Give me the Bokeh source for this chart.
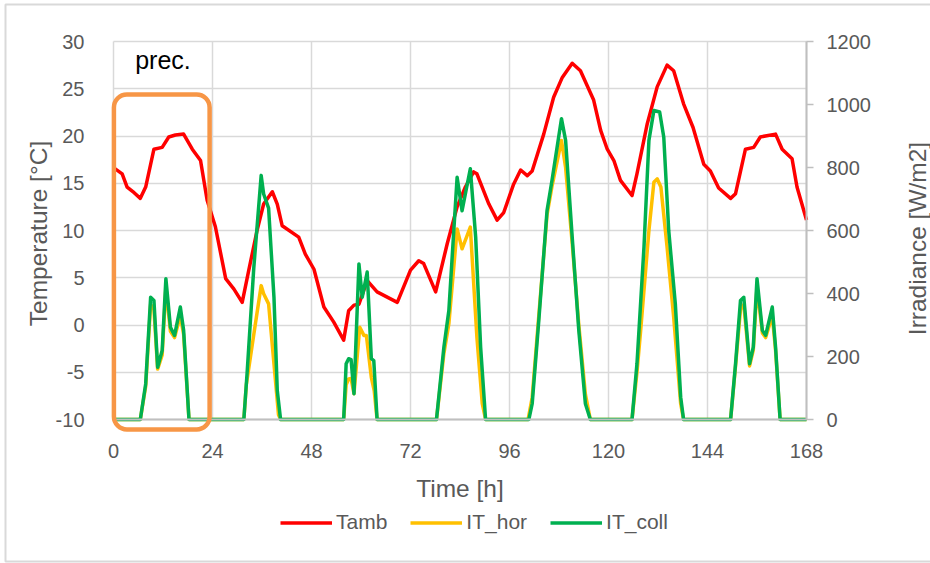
import math
from bokeh.plotting import figure
from bokeh.models import (Range1d, LinearAxis, FixedTicker, Legend, LegendItem,
                          BoxAnnotation, Label, Grid)
from bokeh.embed import file_html
from bokeh.resources import INLINE

# ---------------- data ----------------
tamb_t = [0, 0.5, 2.1, 3.3, 5.0, 6.5, 7.8, 9.8, 11.8, 13.4, 15.0, 17.0, 19.1, 21.1, 22.7,
          24.7, 27.2, 29.2, 31.2, 32.8, 34.8, 36.4, 38.5, 39.7, 40.9, 44.9, 46.5, 48.6,
          51.0, 53.4, 55.8, 57.0, 58.3, 59.5, 61.5, 63.9, 68.8, 72.0, 74.0, 75.2, 78.1,
          80.9, 83.3, 85.3, 87.3, 88.1, 91.0, 93.0, 94.6, 97.0, 98.7, 100.3, 101.5,
          104.3, 106.7, 108.8, 111.2, 113.2, 116.4, 118.1, 119.7, 121.3, 122.9, 125.7,
          126.9, 129.4, 131.8, 134.2, 135.8, 138.2, 140.5, 143.1, 144.7, 146.7, 149.6,
          150.8, 153.2, 155.2, 156.8, 160.5, 162.1, 164.5, 165.7, 168]
tamb_v = [16.6, 16.5, 16.0, 14.6, 14.0, 13.4, 14.6, 18.6, 18.8, 19.9, 20.1, 20.2, 18.6, 17.4, 13.2,
          10.4, 4.9, 3.8, 2.4, 5.8, 10.0, 12.8, 14.1, 12.8, 10.5, 9.3, 7.5, 5.9,
          1.9, 0.3, -1.6, 1.5, 2.1, 2.2, 4.7, 3.5, 2.4, 5.8, 6.8, 6.5, 3.5,
          8.6, 12.5, 14.6, 16.2, 16.0, 12.8, 11.1, 11.9, 14.9, 16.4, 15.8, 16.3,
          20.2, 24.1, 26.2, 27.7, 26.9, 23.8, 20.6, 18.6, 17.4, 15.3, 13.7,
          16.0, 21.3, 25.2, 27.5, 26.9, 23.4, 20.9, 17.0, 16.3, 14.5, 13.4,
          13.9, 18.6, 18.8, 19.9, 20.2, 18.6, 17.6, 14.6, 11.1]

ithor_t = [0, 6.5, 7.8, 9.0, 9.8, 10.7, 11.8, 12.7, 13.8, 14.8, 16.2, 17.0, 18.3,
           31.6, 32.2, 34.4, 35.8, 36.4, 37.6, 38.9, 40.0, 40.5,
           55.8, 56.4, 57.0, 57.6, 58.3, 59.7, 60.7, 61.3, 62.5, 63.2, 63.9,
           78.3, 80.1, 81.3, 83.3, 84.5, 86.5, 88.1, 89.4, 90.2,
           100.5, 101.5, 103.1, 105.1, 106.3, 108.6, 109.6, 111.2, 112.8, 114.4, 115.6,
           125.7, 126.9, 127.8, 129.8, 131.0, 131.8, 132.7, 134.2, 135.8, 137.5, 138.2,
           149.6, 150.8, 152.0, 152.8, 154.2, 155.1, 156.0, 157.3, 158.1, 159.7, 160.5, 161.6, 168]
ithor_v = [0, 0, 105, 365, 350, 160, 205, 420, 280, 260, 330, 270, 0,
           0, 110, 304, 425, 399, 367, 177, 15, 0,
           0, 110, 129, 130, 82, 293, 267, 267, 134, 92, 0,
           0, 210, 304, 605, 542, 611, 261, 50, 0,
           0, 70, 330, 650, 740, 886, 800, 560, 300, 80, 0,
           0, 150, 283, 600, 753, 764, 738, 547, 325, 50, 0,
           0, 170, 350, 365, 170, 220, 420, 275, 260, 330, 220, 0, 0]

itcoll_t = [0, 6.5, 7.8, 9.0, 9.8, 10.7, 11.8, 12.7, 13.8, 14.8, 16.2, 17.0, 18.3,
            31.6, 32.4, 34.0, 35.8, 36.4, 37.6, 38.9, 39.7, 40.5,
            55.8, 56.4, 57.0, 57.6, 58.3, 59.5, 60.3, 61.5, 62.5, 63.1, 63.9,
            78.3, 80.1, 81.3, 83.3, 84.5, 86.5, 87.8, 89.0, 90.2,
            100.7, 101.5, 103.1, 105.1, 106.3, 108.6, 109.6, 111.2, 112.8, 114.4, 115.6,
            125.7, 126.9, 128.6, 129.8, 131.0, 132.4, 133.4, 134.6, 136.2, 137.5, 138.2,
            149.6, 150.8, 152.0, 152.8, 154.2, 155.1, 156.0, 157.3, 158.1, 159.7, 160.5, 161.6, 168]
itcoll_v = [0, 0, 113, 388, 378, 166, 219, 447, 293, 267, 357, 283, 0,
            0, 150, 480, 775, 716, 671, 388, 92, 0,
            0, 177, 193, 190, 82, 494, 388, 468, 193, 187, 0,
            0, 230, 346, 769, 663, 796, 579, 230, 0,
            0, 50, 314, 663, 759, 955, 886, 579, 283, 50, 0,
            0, 177, 547, 886, 981, 976, 896, 600, 367, 71, 0,
            0, 177, 378, 388, 177, 230, 447, 283, 267, 357, 230, 0, 0]

x_ticks = [0, 24, 48, 72, 96, 120, 144, 168]
temp_ticks = [-10, -5, 0, 5, 10, 15, 20, 25, 30]
temp_tick_labels = ["-10", "-5", "0", "5", "10", "15", "20", "25", "30"]
irr_ticks = [0, 200, 400, 600, 800, 1000, 1200]

series_names = ["Tamb", "IT_hor", "IT_coll"]
series_colors = ["#FF0000", "#FFC000", "#00B050"]

x_title = "Time [h]"
y_title = "Temperature [°C]"
y2_title = "Irradiance [W/m2]"
prec_label = "prec."
prec_box = dict(left=0.1, right=23.3, bottom=-11.05, top=24.4)

# ---------------- layout (pixels) ----------------
W, H = 930, 563
FL, FR, FT, FB = 113, 806, 41, 419          # plot area in the picture
X0, X1 = 0, 168
T0, T1 = -10, 30
I0, I1 = 0, 1200
kx = (FR - FL) / (X1 - X0)
ky = (FB - FT) / (T1 - T0)
ki = (FB - FT) / (I1 - I0)


def px_t(px):
    return X0 + (px - FL) / kx


def py_T(py):
    return T0 + (FB - py) / ky


FONT = "Liberation Sans"
TXT = "#595959"
GRID = "#D9D9D9"
AXIS = "#BFBFBF"

p = figure(width=W, height=H, output_backend="svg", toolbar_location=None,
           x_range=Range1d(px_t(0), px_t(W)), y_range=Range1d(py_T(H), py_T(0)),
           min_border=0, min_border_left=0, min_border_right=0, min_border_top=0,
           min_border_bottom=0, outline_line_color=None,
           x_axis_location=None, y_axis_location=None)
p.extra_y_ranges = {"irr": Range1d(I0 - (H - FB) / ki, I0 + FB / ki)}
for g in list(p.xgrid) + list(p.ygrid):
    g.visible = False

# ---------------- grid ----------------
if "cross_bounds" in Grid.properties():
    xg = Grid(dimension=0, ticker=FixedTicker(ticks=x_ticks), cross_bounds=(T0, T1))
    yg = Grid(dimension=1, ticker=FixedTicker(ticks=temp_ticks), cross_bounds=(X0, X1))
    for g in (xg, yg):
        g.grid_line_color = GRID
        g.grid_line_width = 1.5
        p.add_layout(g)
else:
    p.segment(x0=x_ticks, y0=[T0] * len(x_ticks), x1=x_ticks, y1=[T1] * len(x_ticks),
              line_color=GRID, line_width=1.5, level="underlay")
    p.segment(x0=[X0] * len(temp_ticks), y0=temp_ticks, x1=[X1] * len(temp_ticks),
              y1=temp_ticks, line_color=GRID, line_width=1.5, level="underlay")

# ---------------- axes ----------------
xa = LinearAxis(ticker=FixedTicker(ticks=x_ticks), fixed_location=T0, bounds=(X0, X1))
xa.axis_line_color = AXIS
xa.axis_line_width = 2
xa.major_tick_line_color = None
xa.minor_tick_line_color = None
xa.major_label_standoff = 18
p.add_layout(xa, "below")

ya = LinearAxis(ticker=FixedTicker(ticks=temp_ticks), fixed_location=X0, bounds=(T0, T1),
                major_label_overrides=dict(zip(temp_ticks, temp_tick_labels)))
ya.axis_line_color = None
ya.major_tick_line_color = None
ya.minor_tick_line_color = None
ya.major_label_standoff = 23
p.add_layout(ya, "left")

ra = LinearAxis(y_range_name="irr", ticker=FixedTicker(ticks=irr_ticks),
                fixed_location=X1, bounds=(I0, I1))
ra.axis_line_color = AXIS
ra.axis_line_width = 2
ra.major_tick_line_color = AXIS
ra.major_tick_line_width = 1.5
ra.major_tick_in = 0
ra.major_tick_out = 7
ra.minor_tick_line_color = None
ra.major_label_standoff = 13
p.add_layout(ra, "right")

for ax in (xa, ya, ra):
    ax.major_label_text_font = FONT
    ax.major_label_text_font_size = "20px"
    ax.major_label_text_color = TXT

# axis titles
tkw = dict(text_font=FONT, text_font_size="24.5px", text_color=TXT,
           text_align="center", text_baseline="middle")
p.add_layout(Label(x=(X0 + X1) / 2, y=py_T(488), text=x_title, **tkw))
p.add_layout(Label(x=px_t(38), y=py_T(233), text=y_title, angle=math.pi / 2, **tkw))
p.add_layout(Label(x=px_t(917), y=py_T(238), text=y2_title, angle=math.pi / 2, **tkw))

# ---------------- series ----------------
r_t = p.line(tamb_t, tamb_v, line_color=series_colors[0], line_width=3.5, line_join="round")
r_h = p.line(ithor_t, ithor_v, line_color=series_colors[1], line_width=3.5,
             line_join="round", y_range_name="irr")
r_c = p.line(itcoll_t, itcoll_v, line_color=series_colors[2], line_width=3.5,
             line_join="round", y_range_name="irr")

# preconditioning box + label
box = BoxAnnotation(**prec_box, fill_color=None, fill_alpha=0, line_color="#F79646",
                    line_alpha=1, line_width=4.5, border_radius=13, level="overlay")
p.add_layout(box)
p.add_layout(Label(x=12, y=28, text=prec_label, text_align="center",
                   text_baseline="middle", text_font=FONT, text_font_size="25px",
                   text_color="#000000"))

# outer chart border
border = BoxAnnotation(left=px_t(5), right=px_t(W + 10), top=py_T(4), bottom=py_T(561),
                       fill_color=None, fill_alpha=0, line_color=GRID, line_alpha=1,
                       line_width=2)
p.add_layout(border)

legend = Legend(items=[LegendItem(label=series_names[0], renderers=[r_t]),
                       LegendItem(label=series_names[1], renderers=[r_h]),
                       LegendItem(label=series_names[2], renderers=[r_c])],
                orientation="horizontal", location=(280, 29),
                glyph_width=52, glyph_height=21, label_standoff=4, spacing=23,
                padding=0, margin=0, border_line_color=None,
                background_fill_alpha=0, label_text_font=FONT,
                label_text_font_size="21px", label_text_color=TXT)
p.add_layout(legend)

open("out.html", "w").write(file_html(p, INLINE))
